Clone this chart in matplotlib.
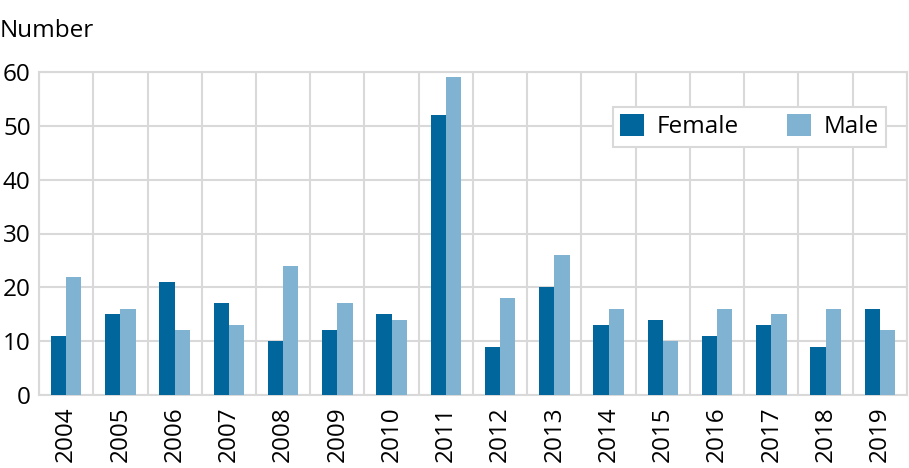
import matplotlib
matplotlib.use("Agg")
import matplotlib.pyplot as plt
import numpy as np

plt.rcParams['font.family'] = ['Open Sans', 'DejaVu Sans']

years = ['2004', '2005', '2006', '2007', '2008', '2009', '2010', '2011',
         '2012', '2013', '2014', '2015', '2016', '2017', '2018', '2019']
female = [11, 15, 21, 17, 10, 12, 15, 52, 9, 20, 13, 14, 11, 13, 9, 16]
male = [22, 16, 12, 13, 24, 17, 14, 59, 18, 26, 16, 10, 16, 15, 16, 12]
yticks = [0, 10, 20, 30, 40, 50, 60]

fs = 17.5
fig = plt.figure(figsize=(9.09, 4.68), dpi=100)
ax = fig.add_axes([39/909, 1-395/468, 868/909, (395-72)/468])

x = np.arange(len(years))
w = 0.283
grid_c = '#d9d9d9'
ax.bar(x - w/2, female, width=w, color='#00669c', label='Female', zorder=3)
ax.bar(x + w/2, male, width=w, color='#80b3d1', label='Male', zorder=3)

ax.set_xlim(-0.5, len(years) - 0.5)
ax.set_ylim(0, 60)
ax.set_yticks(yticks)
ax.set_yticklabels([str(v) for v in yticks], fontsize=fs)
ax.set_xticks(x)
ax.set_xticklabels(years, rotation=90, fontsize=fs)
for b in np.arange(-0.5, len(years), 1.0):
    ax.axvline(b, color=grid_c, lw=1.5, zorder=1)
ax.grid(axis='y', color=grid_c, lw=1.5, zorder=1)
for s in ax.spines.values():
    s.set_color(grid_c)
    s.set_linewidth(1.5)
ax.tick_params(axis='x', length=0, pad=8, colors='black')
ax.tick_params(axis='y', length=0, pad=6, colors='black')

fig.text(0, 1 - 37/468, 'Number', fontsize=fs, ha='left', va='baseline')

leg = ax.legend(loc='upper right', ncol=2, fontsize=fs,
                frameon=True, fancybox=False, edgecolor=grid_c, framealpha=1,
                handlelength=1.0, handleheight=1.0, columnspacing=2.0, handletextpad=0.5,
                borderpad=0.3, borderaxespad=0,
                bbox_to_anchor=(886/909, 1 - 107/468), bbox_transform=fig.transFigure)
leg.get_frame().set_linewidth(1.5)

fig.savefig('out.png', dpi=100)
